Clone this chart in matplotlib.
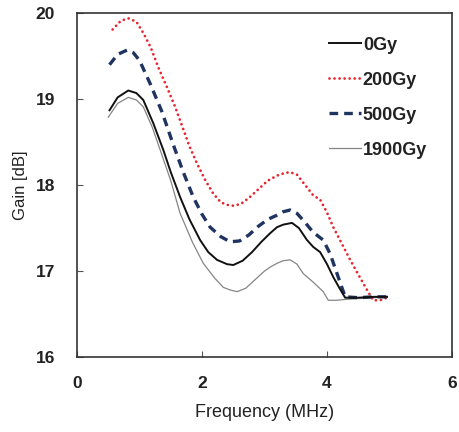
import matplotlib
matplotlib.use("Agg")
import matplotlib.pyplot as plt

plt.rcParams['font.family'] = ['Liberation Sans', 'DejaVu Sans']

# ---- data ----
x_0gy = [0.52, 0.65, 0.82, 0.95, 1.06, 1.22, 1.38, 1.5, 1.65, 1.8, 1.97, 2.1, 2.24, 2.4, 2.5,
         2.65, 2.8, 2.95, 3.09, 3.2, 3.3, 3.44, 3.55, 3.68, 3.78, 3.89, 4.0, 4.1, 4.2, 4.29,
         4.5, 4.75, 4.96]
y_0gy = [18.87, 19.02, 19.1, 19.07, 18.99, 18.72, 18.41, 18.15, 17.86, 17.6, 17.36, 17.22,
         17.13, 17.08, 17.07, 17.12, 17.22, 17.34, 17.44, 17.51, 17.54, 17.56, 17.5, 17.36,
         17.28, 17.22, 17.08, 16.93, 16.8, 16.69, 16.69, 16.7, 16.7]

x_200gy = [0.57, 0.7, 0.82, 0.95, 1.06, 1.18, 1.3, 1.45, 1.57, 1.7, 1.8, 1.92, 2.05, 2.18,
           2.3, 2.4, 2.5, 2.62, 2.75, 2.9, 3.05, 3.2, 3.32, 3.41, 3.52, 3.65, 3.78, 3.89,
           4.0, 4.1, 4.25, 4.37, 4.5, 4.64, 4.74, 4.85, 4.96]
y_200gy = [19.81, 19.91, 19.94, 19.9, 19.77, 19.6, 19.37, 19.12, 18.91, 18.65, 18.45, 18.25,
           18.06, 17.9, 17.8, 17.77, 17.76, 17.78, 17.85, 17.95, 18.05, 18.11, 18.14, 18.15,
           18.12, 18.0, 17.88, 17.83, 17.68, 17.51, 17.3, 17.13, 16.96, 16.78, 16.66, 16.66,
           16.69]

x_500gy = [0.52, 0.65, 0.8, 0.9, 1.0, 1.17, 1.36, 1.54, 1.7, 1.86, 2.0, 2.13, 2.3, 2.45, 2.6,
           2.75, 2.9, 3.05, 3.2, 3.3, 3.41, 3.52, 3.62, 3.78, 3.94, 4.05, 4.16, 4.29, 4.5,
           4.75, 4.96]
y_500gy = [19.4, 19.52, 19.57, 19.54, 19.45, 19.18, 18.85, 18.47, 18.15, 17.86, 17.66, 17.51,
           17.4, 17.34, 17.35, 17.42, 17.52, 17.6, 17.65, 17.69, 17.71, 17.67, 17.59, 17.45,
           17.36, 17.2, 16.97, 16.7, 16.69, 16.7, 16.7]

x_1900gy = [0.5, 0.65, 0.82, 0.95, 1.06, 1.2, 1.33, 1.5, 1.65, 1.85, 2.02, 2.2, 2.34, 2.45,
            2.56, 2.7, 2.85, 3.0, 3.1, 3.2, 3.3, 3.41, 3.52, 3.62, 3.78, 3.94, 4.02, 4.15,
            4.3, 4.5, 4.75, 4.96]
y_1900gy = [18.79, 18.95, 19.02, 18.99, 18.91, 18.68, 18.41, 18.05, 17.67, 17.33, 17.09,
            16.92, 16.81, 16.78, 16.76, 16.8, 16.9, 17.0, 17.05, 17.09, 17.12, 17.13, 17.08,
            16.97, 16.87, 16.76, 16.66, 16.66, 16.67, 16.68, 16.69, 16.7]

labels = ['0Gy', '200Gy', '500Gy', '1900Gy']
x_ticks = [0, 2, 4, 6]
y_ticks = [16, 17, 18, 19, 20]

fig = plt.figure(figsize=(4.59, 4.32), dpi=100)
ax = fig.add_axes([0.1678, 0.1736, 0.817, 0.796])

ax.plot(x_0gy, y_0gy, color='#111111', lw=1.4, label=labels[0], zorder=4)
ax.plot(x_200gy, y_200gy, color='#e8252e', lw=2.0, linestyle=(0, (0.01, 1.8)),
        dash_capstyle='round', label=labels[1], zorder=3)
ax.plot(x_500gy, y_500gy, color='#1f3461', lw=2.4, linestyle=(0, (2.6, 1.8)),
        label=labels[2], zorder=3)
ax.plot(x_1900gy, y_1900gy, color='#858585', lw=0.9, label=labels[3], zorder=2)

ax.set_xlim(0, 6)
ax.set_ylim(16, 20)
ax.set_xticks(x_ticks)
ax.set_yticks(y_ticks)
ax.tick_params(direction='in', length=4, width=0.8, color='#555555',
               labelsize=12.5)
ax.tick_params(axis='x', pad=14)
ax.tick_params(axis='y', pad=16)
for lab in ax.get_xticklabels() + ax.get_yticklabels():
    lab.set_fontweight('bold')
    lab.set_color('#222222')
for sp in ax.spines.values():
    sp.set_linewidth(1.2)
    sp.set_color('#333333')

ax.set_xlabel('Frequency (MHz)', fontsize=13, color='#222222', labelpad=9)
ax.set_ylabel('Gain [dB]', fontsize=12, color='#222222', labelpad=5)

leg = ax.legend(loc='upper left', bbox_to_anchor=(0.648, 0.958), frameon=False,
                borderpad=0, handlelength=1.75, handletextpad=0.12, labelspacing=1.0,
                prop={'size': 13, 'weight': 'bold'})
for t in leg.get_texts():
    t.set_color('#222222')

fig.savefig('out.png', dpi=100)
